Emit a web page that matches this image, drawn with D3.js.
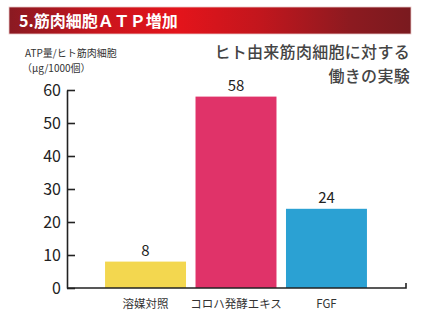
<!DOCTYPE html>
<html>
<head>
<meta charset="utf-8">
<script src="https://cdn.jsdelivr.net/npm/d3@7"></script>
<style>
  html, body { margin: 0; padding: 0; background: #fff; }
  svg { display: block; }
  text { font-family: "Noto Sans CJK JP", "Noto Sans", sans-serif; }
</style>
</head>
<body>
<svg id="chart" width="421" height="330"></svg>
<script>
// Chart data
const categories = ["溶媒対照", "コロハ発酵エキス", "FGF"];
const atpValues = [8, 58, 24];
const barColors = ["#f3d74f", "#e03369", "#2ba1d3"];
const yTicks = [0, 10, 20, 30, 40, 50, 60];

const svg = d3.select("#chart");

// Header banner with red gradient
const defs = svg.append("defs");
const grad = defs.append("linearGradient").attr("id", "bannerGrad")
  .attr("x1", "0%").attr("x2", "100%").attr("y1", "0%").attr("y2", "0%");
[["0%", "#8a1a22"], ["22%", "#c8151d"], ["42%", "#e4141b"], ["62%", "#c3161d"], ["85%", "#8c1a20"], ["100%", "#7a1a1f"]]
  .forEach(([o, c]) => grad.append("stop").attr("offset", o).attr("stop-color", c));

svg.append("rect").attr("x", 9).attr("y", 7).attr("width", 402).attr("height", 27)
  .attr("fill", "url(#bannerGrad)").attr("stroke", "#e9c9c9").attr("stroke-width", 0.8);
svg.append("text").attr("x", 19).attr("y", 27)
  .attr("fill", "#fff").attr("font-size", 16).attr("font-weight", "bold")
  .text("5.筋肉細胞ＡＴＰ増加");

// Scales
const y = d3.scaleLinear().domain([0, 60]).range([288, 90]);
const x = d3.scaleBand().domain(categories)
  .range([100.3, 371.7]).paddingInner(0.105).paddingOuter(0.0525);

// Y axis label (two lines)
svg.append("text").attr("x", 25).attr("y", 57).attr("font-size", 10).attr("fill", "#333")
  .text("ATP量/ヒト筋肉細胞");
svg.append("text").attr("x", 22).attr("y", 72).attr("font-size", 10).attr("fill", "#333")
  .text("（μg/1000個）");

// Subtitle at the right
const sub = svg.append("text").attr("text-anchor", "end").attr("font-size", 16)
  .attr("letter-spacing", 0.3).attr("font-weight", 500).attr("fill", "#444");
sub.append("tspan").attr("x", 410).attr("y", 58).text("ヒト由来筋肉細胞に対する");
sub.append("tspan").attr("x", 410).attr("y", 82).text("働きの実験");

// Bars
svg.append("g").selectAll("rect").data(atpValues).join("rect")
  .attr("x", (d, i) => x(categories[i]))
  .attr("y", d => y(d))
  .attr("width", x.bandwidth())
  .attr("height", d => y(0) - y(d))
  .attr("fill", (d, i) => barColors[i]);

// Value labels
svg.append("g").selectAll("text").data(atpValues).join("text")
  .attr("x", (d, i) => x(categories[i]) + x.bandwidth() / 2)
  .attr("y", d => y(d) - 6)
  .attr("text-anchor", "middle").attr("font-size", 15).attr("fill", "#222")
  .attr("font-family", "'Open Sans', 'Noto Sans', sans-serif")
  .text(d => d);

// Y axis (ticks pointing inward)
const yAxis = svg.append("g").attr("transform", "translate(67,0)")
  .call(d3.axisRight(y).tickValues(yTicks).tickSize(8).tickSizeOuter(0).tickFormat(d3.format("d")));
yAxis.select(".domain").attr("stroke", "#222").attr("stroke-width", 1.6);
yAxis.selectAll(".tick line").attr("stroke", "#222").attr("stroke-width", 1.6);
yAxis.selectAll(".tick text").attr("x", -6).attr("text-anchor", "end")
  .attr("font-size", 16).attr("fill", "#222")
  .attr("font-family", "'Open Sans', 'Noto Sans', sans-serif");

// X axis baseline with a small upturn at the right end
const xAxis = svg.append("g").attr("transform", `translate(0,${y(0)})`)
  .call(d3.axisBottom(x).tickSize(0).tickPadding(12));
xAxis.select(".domain").remove();
svg.append("path")
  .attr("d", `M67,${y(0)}H406V${y(0) - 5}`)
  .attr("fill", "none").attr("stroke", "#222").attr("stroke-width", 1.6);
xAxis.selectAll(".tick text").attr("font-size", 11.5).attr("fill", "#333")
  .attr("font-family", "'Noto Sans CJK JP', sans-serif");
</script>
</body>
</html>
